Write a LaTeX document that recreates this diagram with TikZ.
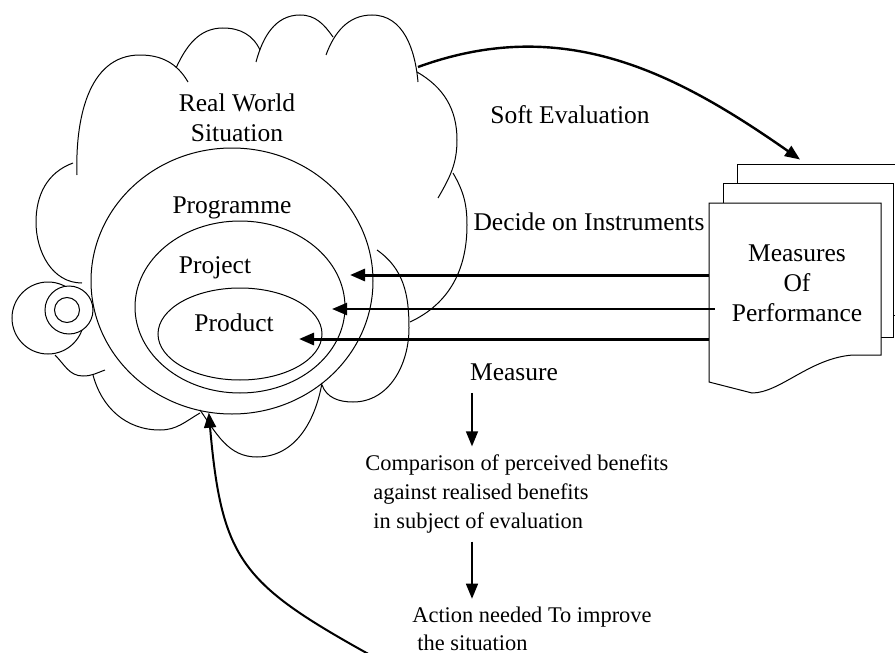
\documentclass[tikz,border=0pt]{standalone}
\usepackage{fontspec}
\setmainfont{Liberation Serif}
\usepackage{tikz}
\usetikzlibrary{positioning,arrows.meta,shapes.geometric}

\begin{document}
\begin{tikzpicture}[x=0.5pt, y=0.5pt,
    bump/.style={line width=0.5pt},
    ring/.style={ellipse, draw, line width=0.5pt, inner sep=0pt, minimum width=#1},
    page/.style={rectangle, draw, fill=white, line width=0.5pt, inner sep=0pt},
    txt/.style={font=\fontsize{12.75}{15}\selectfont, align=center, inner sep=2pt},
    small/.style={font=\fontsize{11.2}{14.5}\selectfont, align=left, anchor=west, inner sep=2pt},
    bigarrow/.style={-{Triangle[length=7.5pt,width=6pt]}, line width=1.5pt},
    arrow/.style={-{Triangle[length=7.5pt,width=6pt]}, line width=#1},
    arrow/.default=0.75pt
]
\useasboundingbox (0,0) rectangle (895,-653);

% the cloud, bump by bump
\draw[bump] (77,-175) to[out=92,in=180] (140,-55) to[out=0,in=120] (188,-82);
\draw[bump] (176,-68) to[out=65,in=180] (223,-28) to[out=0,in=115] (260,-50);
\draw[bump] (256,-62) to[out=75,in=180] (300,-15) to[out=0,in=125] (333,-37);
\draw[bump] (326,-55) to[out=70,in=180] (372,-15) to[out=0,in=95] (418,-82);
\draw[bump] (417,-72) to[out=-30,in=90] (457,-140) to[out=-90,in=60] (438,-198);
\draw[bump] (453,-173) to[out=-60,in=90] (467,-225) to[out=-90,in=25] (410,-322);
\draw[bump] (377,-250) to[out=-35,in=90] (409,-328) to[out=-90,in=0] (353,-402) to[out=180,in=-70] (322,-385);
\draw[bump] (322,-383) to[out=-100,in=0] (257,-457) to[out=180,in=-55] (200,-410);
\draw[bump] (200,-413) to[out=-150,in=0] (160,-430) to[out=180,in=-75] (93,-375);
\draw[bump] (105,-370) to[out=-160,in=0] (83,-376) to[out=180,in=-45] (55,-355);
\draw[bump] (73,-163) to[out=200,in=90] (36,-222) to[out=-90,in=180] (82,-283);

% the ear on the left
\draw[bump, fill=white] (48,-318) circle (36);
\draw[bump, fill=white] (69,-310) circle (24);
\draw[bump] (67,-310) circle (12.5);

% nested subjects
\node[ring=141pt, minimum height=133pt] (prog) at (232,-281) {};
\node[ring=105pt, minimum height=86pt]  (proj) at (240,-307) {};
\node[ring=82pt,  minimum height=46pt]  (prod) at (240,-334) {};

\node[txt] (world)     at (237,-118) {Real World\\Situation};
\node[txt] (proglabel) at (232,-208) {Programme};
\node[txt] (projlabel) at (215,-268) {Project};
\node[txt] (prodlabel) at (234,-323) {Product};

% stack of measures
\node[page, minimum width=84pt, minimum height=75.5pt] (page3) at (821,-239.5) {};
\node[page, minimum width=85pt, minimum height=77pt]   (page2) at (808,-260) {};
\draw[bump, fill=white] (709,-203) -- (881,-203) -- (881,-355) -- (853,-355)
    .. controls (810,-358) and (780,-393) .. (752,-393) -- (709,-382) -- cycle;
\node[inner sep=0pt, minimum width=86pt, minimum height=89.5pt] (page1) at (795,-292.5) {};
\node[txt] (mop) at (797,-283) {Measures\\Of\\Performance};

\node[txt] (soft)    at (570,-115) {Soft Evaluation};
\node[txt] (decide)  at (589,-222) {Decide on Instruments};
\node[txt] (measure) at (514,-372) {Measure};
\node[small] (compare) at (361,-494)
    {Comparison of perceived benefits\\\hspace*{4pt}against realised benefits\\\hspace*{4pt}in subject of evaluation};
\node[small, font=\fontsize{11.2}{14}\selectfont] (action) at (408,-629)
    {Action needed To improve\\\hspace*{2.5pt}the situation};

\coordinate (cloudtop) at (418,-67);
\coordinate (tipprog)  at (350,-275);
\coordinate (tipproj)  at (332,-309);
\coordinate (tipprod)  at (299,-339);
\coordinate (axis)     at (472,0);
\coordinate (fbstart)  at (372,-656);

\draw[arrow=1.2pt] (cloudtop) to[out=20,in=145] ([xshift=-10.5pt,yshift=2pt]page3.north);
\draw[bigarrow] (page1.west |- tipprog) -- (tipprog);
\draw[bigarrow, line width=1.2pt, shorten <=-3pt] (page1.west |- tipproj) -- (tipproj);
\draw[bigarrow] (page1.west |- tipprod) -- (tipprod);
\draw[arrow, shorten <=4pt, shorten >=2pt] (measure.south -| axis) -- (compare.north -| axis);
\draw[arrow, shorten <=2pt, shorten >=2pt] (compare.south -| axis) -- (action.north -| axis);
\draw[arrow=1pt] (fbstart) to[out=151,in=-85,looseness=1.3] (prog.260);
\end{tikzpicture}
\end{document}
